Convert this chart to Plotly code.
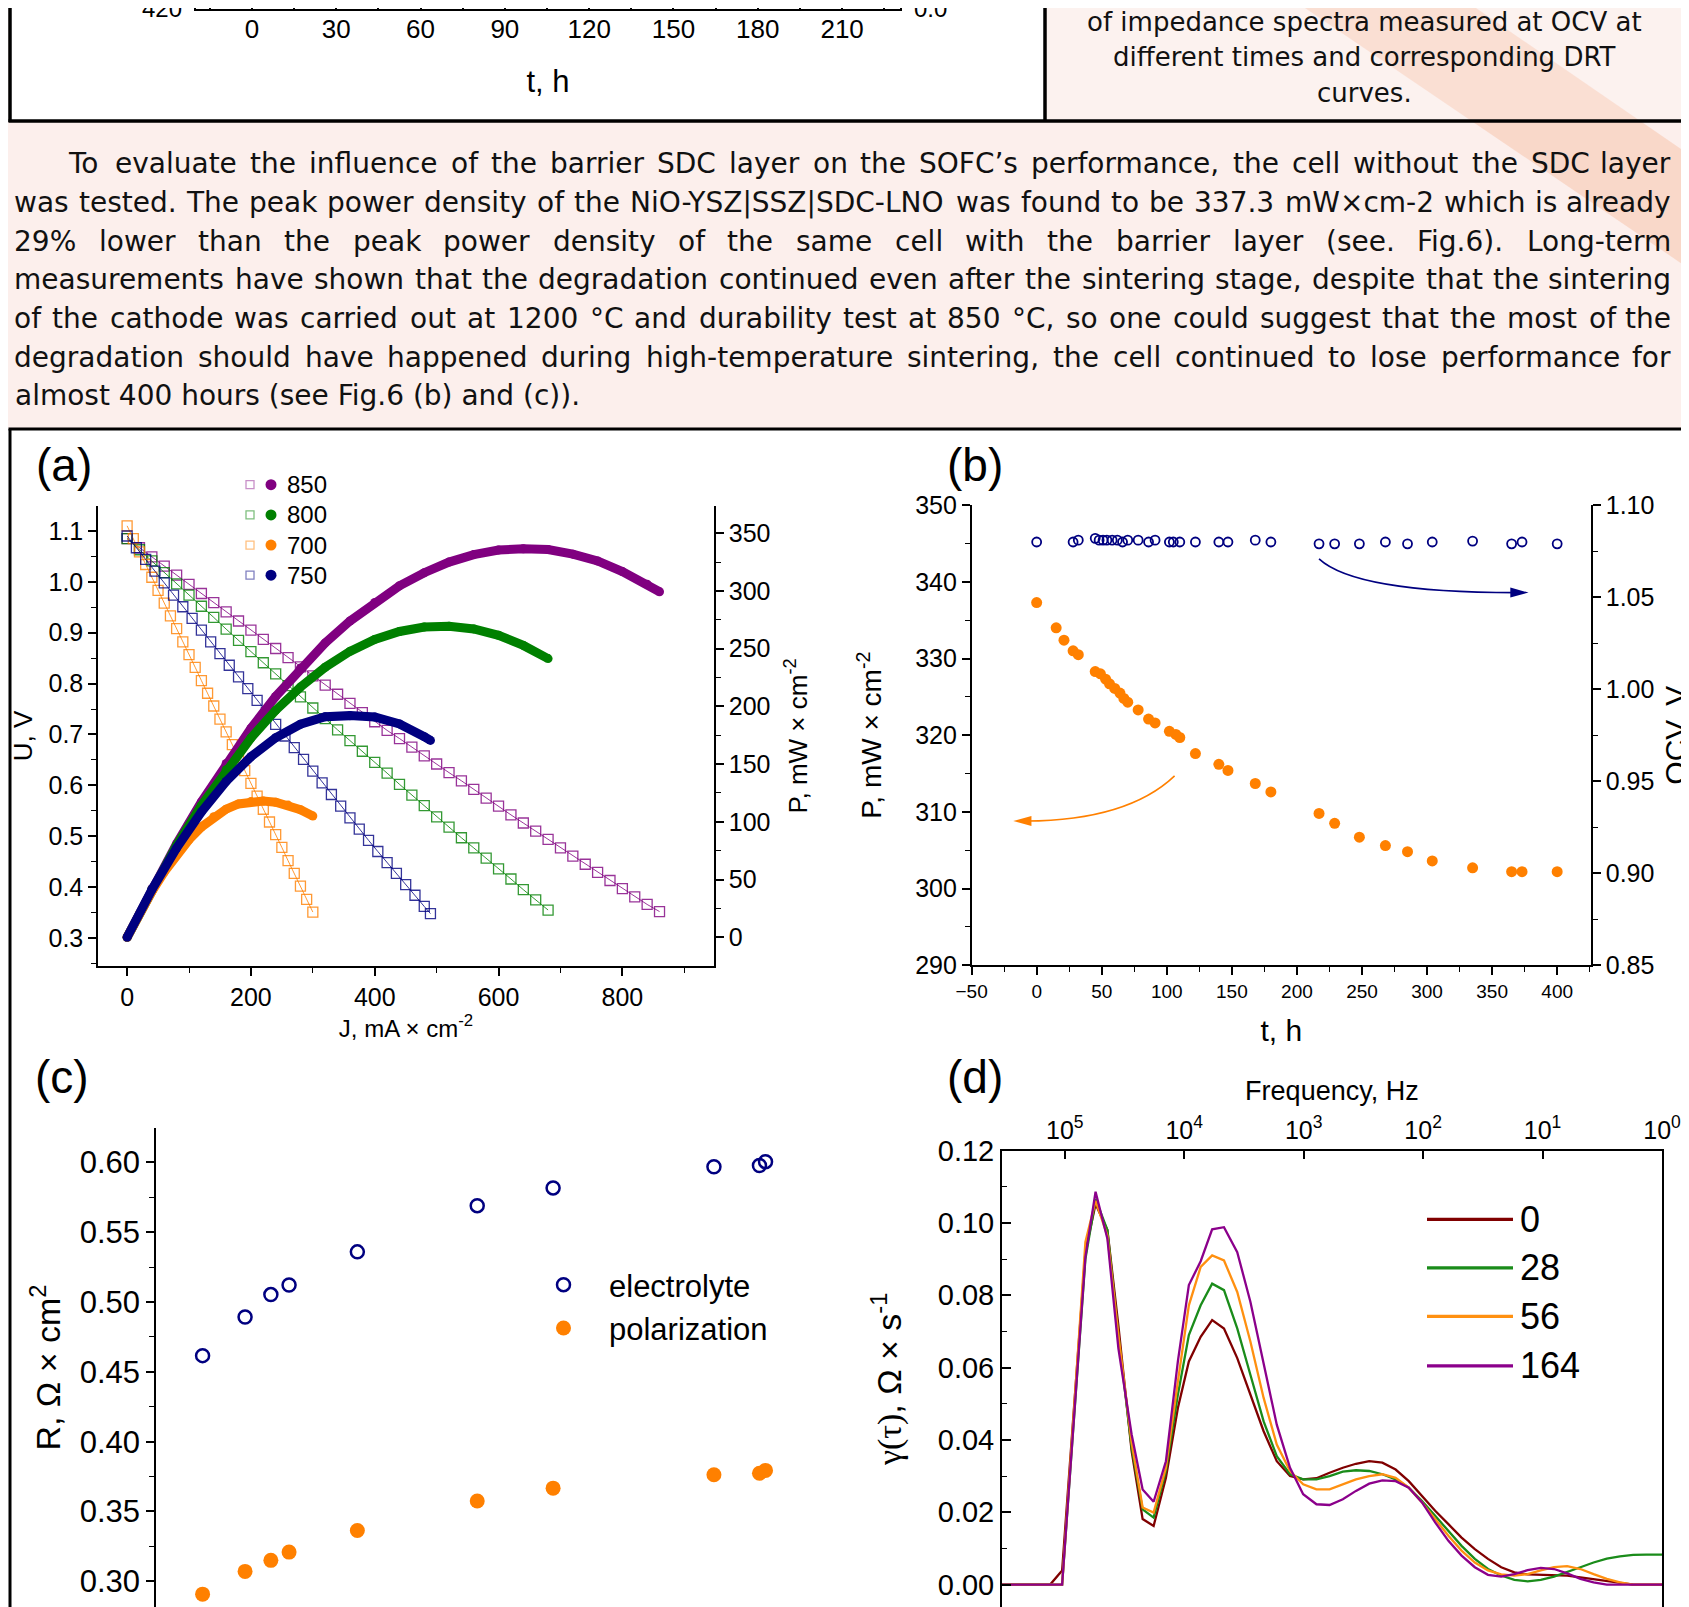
import plotly.graph_objects as go

W, H = 1689, 1607
OFF = 8  # the page places the figure 8 px from the top-left corner


def px(x):
    return (x - OFF) / W


def py(y):
    return 1 - (y - OFF) / H


# ---------------- DATA ----------------
# (a) I-V curves (open squares) and power curves (filled circles)
J_850 = [0, 20, 40, 60, 80, 100, 120, 140, 160, 180, 200, 220, 240, 260, 280, 300, 320, 340, 360, 380, 400,
         420, 440, 460, 480, 500, 520, 540, 560, 580, 600, 620, 640, 660, 680, 700, 720, 740, 760, 780, 800,
         820, 840, 860]
U_850 = [1.085, 1.067, 1.049, 1.031, 1.013, 0.995, 0.977, 0.959, 0.941, 0.923, 0.905, 0.887, 0.869, 0.851,
         0.833, 0.815, 0.797, 0.779, 0.761, 0.743, 0.725, 0.708, 0.692, 0.675, 0.658, 0.642, 0.625, 0.609,
         0.592, 0.575, 0.559, 0.542, 0.526, 0.510, 0.494, 0.477, 0.461, 0.445, 0.429, 0.413, 0.397, 0.381,
         0.366, 0.352]
JP_850 = [0, 40, 80, 120, 160, 200, 240, 280, 320, 360, 400, 440, 480, 520, 560, 600, 640, 680, 720, 760,
          800, 840, 860]
P_850 = [0, 42.0, 81.0, 117.2, 150.6, 181.0, 208.6, 233.2, 255.0, 274.0, 290.0, 304.5, 315.8, 325.0, 331.5,
         335.4, 336.6, 335.9, 331.9, 326.0, 316.8, 305.8, 299.3]

J_800 = [0, 20, 40, 60, 80, 100, 120, 140, 160, 180, 200, 220, 240, 260, 280, 300, 320, 340, 360, 380, 400,
         420, 440, 460, 480, 500, 520, 540, 560, 580, 600, 620, 640, 660, 680]
U_800 = [1.085, 1.063, 1.041, 1.018, 0.996, 0.974, 0.952, 0.930, 0.907, 0.885, 0.863, 0.841, 0.819, 0.796,
         0.774, 0.752, 0.731, 0.709, 0.688, 0.667, 0.645, 0.624, 0.602, 0.581, 0.560, 0.538, 0.518, 0.497,
         0.477, 0.457, 0.436, 0.416, 0.395, 0.375, 0.355]
JP_800 = [0, 40, 80, 120, 160, 200, 240, 280, 320, 360, 400, 440, 480, 520, 560, 600, 640, 680]
P_800 = [0, 41.6, 79.7, 114.2, 145.1, 172.6, 196.6, 216.7, 233.9, 247.7, 258.0, 264.9, 268.8, 269.4, 267.1,
         261.6, 252.8, 241.4]

J_750 = [0, 15, 30, 45, 60, 75, 90, 105, 120, 135, 150, 165, 180, 195, 210, 225, 240, 255, 270, 285, 300,
         315, 330, 345, 360, 375, 390, 405, 420, 435, 450, 465, 480, 490]
U_750 = [1.090, 1.067, 1.044, 1.021, 0.998, 0.974, 0.951, 0.928, 0.905, 0.882, 0.859, 0.836, 0.813, 0.790,
         0.767, 0.744, 0.720, 0.697, 0.674, 0.651, 0.628, 0.605, 0.582, 0.559, 0.536, 0.514, 0.492, 0.470,
         0.448, 0.427, 0.405, 0.384, 0.362, 0.348]
JP_750 = [0, 40, 80, 120, 160, 200, 240, 280, 320, 360, 400, 440, 480, 490]
P_750 = [0, 41.2, 77.3, 108.6, 135.0, 156.4, 172.8, 184.5, 191.0, 192.0, 190.8, 184.8, 173.8, 170.5]

J_700 = [0, 10, 20, 30, 40, 50, 60, 70, 80, 90, 100, 110, 120, 130, 140, 150, 160, 170, 180, 190, 200, 210,
         220, 230, 240, 250, 260, 270, 280, 290, 300]
U_700 = [1.110, 1.085, 1.059, 1.034, 1.009, 0.983, 0.958, 0.933, 0.908, 0.882, 0.857, 0.832, 0.806, 0.781,
         0.756, 0.730, 0.705, 0.680, 0.655, 0.629, 0.604, 0.579, 0.553, 0.528, 0.503, 0.478, 0.452, 0.427,
         0.402, 0.376, 0.351]
JP_700 = [0, 20, 40, 60, 80, 100, 120, 140, 160, 180, 200, 220, 240, 260, 280, 300]
P_700 = [0, 20.5, 39.5, 56.5, 71.5, 84.5, 95.5, 104.5, 111.0, 115.5, 117.5, 118.0, 117.0, 114.5, 110.5, 105.0]

TEMPS_LEGEND = ["850", "800", "700", "750"]

# (b) long-term test
T_P = [0, 15, 21, 28, 32, 45, 49, 53, 56, 60, 64, 67, 70, 78, 86, 91, 102, 107, 110, 122, 140, 147, 168, 180,
       217, 229, 248, 268, 285, 304, 335, 365, 373, 400]
P_T = [337.3, 334.0, 332.4, 331.0, 330.5, 328.3, 328.0, 327.3, 326.7, 326.1, 325.5, 324.8, 324.3, 323.3,
       322.1, 321.6, 320.5, 320.1, 319.7, 317.6, 316.2, 315.4, 313.7, 312.6, 309.8, 308.5, 306.7, 305.6,
       304.8, 303.6, 302.7, 302.2, 302.2, 302.2]
T_OCV = [0, 28, 32, 45, 48, 51, 54, 58, 62, 66, 70, 78, 86, 91, 102, 105, 110, 122, 140, 147, 168, 180, 217,
         229, 248, 268, 285, 304, 335, 365, 373, 400]
OCV = [1.080, 1.080, 1.081, 1.082, 1.081, 1.081, 1.081, 1.081, 1.081, 1.080, 1.081, 1.081, 1.080, 1.081,
       1.080, 1.080, 1.080, 1.080, 1.080, 1.080, 1.081, 1.080, 1.079, 1.079, 1.079, 1.080, 1.079, 1.080,
       1.0805, 1.079, 1.080, 1.079]

# (c) resistances
T_R = [0, 28, 45, 57, 102, 181, 231, 337, 367, 371]
R_EL = [0.4616, 0.4893, 0.5053, 0.5122, 0.5359, 0.5690, 0.5817, 0.5969, 0.5977, 0.6005]
R_POL = [0.2908, 0.3071, 0.3150, 0.3209, 0.3364, 0.3575, 0.3667, 0.3763, 0.3774, 0.3794]
R_LABELS = ["electrolyte", "polarization"]

# (d) DRT curves
LOG_F = [5.545, 5.122, 5.022, 4.827, 4.742, 4.643, 4.551, 4.440, 4.348, 4.256, 4.153, 4.053, 3.961, 3.862,
         3.766, 3.667, 3.556, 3.446, 3.335, 3.225, 3.114, 3.004, 2.893, 2.783, 2.672, 2.562, 2.451, 2.341,
         2.230, 2.120, 2.009, 1.899, 1.788, 1.678, 1.567, 1.457, 1.346, 1.236, 1.125, 1.015, 0.904, 0.794,
         0.683, 0.573, 0.462, 0.352, 0.241, 0.131, 0.000]
G_0 = [0, 0, 0.0039, 0.092, 0.1052, 0.098, 0.0716, 0.0369, 0.0181, 0.0162, 0.0295, 0.0488, 0.0617, 0.0685,
       0.0731, 0.0708, 0.0626, 0.0525, 0.0424, 0.0341, 0.0300, 0.0291, 0.0294, 0.0309, 0.0323, 0.0334, 0.0341,
       0.0337, 0.0318, 0.0286, 0.0245, 0.0204, 0.0167, 0.0130, 0.0098, 0.0071, 0.0048, 0.0034, 0.0028, 0.0027,
       0.0027, 0.0025, 0.0020, 0.0015, 0.0009, 0.0004, 0, 0, 0]
G_28 = [0, 0, 0, 0.090, 0.1066, 0.098, 0.069, 0.0378, 0.0208, 0.0185, 0.0314, 0.0525, 0.069, 0.0772, 0.0832,
        0.0814, 0.0708, 0.058, 0.0451, 0.0355, 0.0305, 0.0291, 0.0291, 0.030, 0.0312, 0.0316, 0.0314, 0.0305,
        0.0291, 0.0268, 0.0231, 0.019, 0.0149, 0.0107, 0.0071, 0.0043, 0.0025, 0.0013, 0.0009, 0.0013, 0.0022,
        0.0034, 0.0048, 0.0061, 0.0072, 0.0078, 0.0082, 0.0083, 0.0083]
G_56 = [0, 0, 0, 0.0947, 0.1061, 0.0965, 0.069, 0.0392, 0.0213, 0.0199, 0.0323, 0.0561, 0.0772, 0.0878,
        0.091, 0.0896, 0.0809, 0.0672, 0.0516, 0.0387, 0.0314, 0.0277, 0.0263, 0.0263, 0.0277, 0.0291, 0.030,
        0.0305, 0.0295, 0.0268, 0.0227, 0.0181, 0.0135, 0.0094, 0.0061, 0.0039, 0.0028, 0.0025, 0.0029,
        0.0039, 0.0048, 0.0051, 0.0043, 0.0029, 0.0016, 0.0006, 0, 0, 0]
G_164 = [0, 0, 0, 0.0906, 0.1086, 0.0956, 0.0653, 0.0415, 0.0263, 0.0229, 0.0341, 0.0617, 0.0828, 0.0894,
         0.0982, 0.0988, 0.0919, 0.0782, 0.0607, 0.0442, 0.0323, 0.025, 0.0222, 0.022, 0.0236, 0.0259, 0.0279,
         0.0288, 0.0286, 0.0268, 0.0227, 0.0172, 0.0121, 0.008, 0.0048, 0.0027, 0.0022, 0.0029, 0.004, 0.0046,
         0.0043, 0.0031, 0.0016, 0.0006, 0, 0, 0, 0, 0]
DRT_LABELS = ["0", "28", "56", "164"]

# top strip (bottom of previous figure)
TOP_TICKS = [0, 30, 60, 90, 120, 150, 180, 210]

# text
PARA_LINES = [
    "To evaluate the influence of the barrier SDC layer on the SOFC\u2019s performance, the cell without the SDC layer",
    "was tested. The peak power density of the NiO-YSZ|SSZ|SDC-LNO was found to be 337.3 mW\u00d7cm-2 which is already",
    "29% lower than the peak power density of the same cell with the barrier layer (see. Fig.6). Long-term",
    "measurements have shown that the degradation continued even after the sintering stage, despite that the sintering",
    "of the cathode was carried out at 1200 \u00b0C and durability test at 850 \u00b0C, so one could suggest that the most of the",
    "degradation should have happened during high-temperature sintering, the cell continued to lose performance for",
    "almost 400 hours (see Fig.6 (b) and (c)).",
]
CAPTION_LINES = ["of impedance spectra measured at OCV at", "different times and corresponding DRT", "curves."]

# ---------------- STYLE ----------------
PURPLE, GREEN, ORANGE, NAVY, MAROON = "#800080", "#008000", "#FF8000", "#000080", "#800000"
CF = "Liberation Sans, Arial, sans-serif"
TF = "DejaVu Sans, Verdana, sans-serif"

# DejaVu Sans advance widths (em) for justification of the paragraph
DW = {' ': .318, '!': .401, '(': .390, ')': .390, ',': .318, '-': .361, '.': .318, '|': .337, '%': .950,
      '\u00d7': .838, '\u00b0': .500, '\u2019': .318, "'": .275,
      'A': .684, 'B': .686, 'C': .698, 'D': .770, 'E': .632, 'F': .575, 'G': .775, 'H': .752, 'I': .295,
      'J': .295, 'K': .656, 'L': .557, 'M': .863, 'N': .748, 'O': .787, 'P': .603, 'Q': .787, 'R': .695,
      'S': .635, 'T': .611, 'U': .732, 'V': .684, 'W': .989, 'X': .686, 'Y': .612, 'Z': .686,
      'a': .613, 'b': .635, 'c': .550, 'd': .635, 'e': .615, 'f': .352, 'g': .635, 'h': .634, 'i': .278,
      'j': .278, 'k': .579, 'l': .278, 'm': .974, 'n': .634, 'o': .612, 'p': .635, 'q': .635, 'r': .411,
      's': .521, 't': .392, 'u': .634, 'v': .592, 'w': .818, 'x': .592, 'y': .592, 'z': .525}


def tw(s, size):
    return sum(DW.get(ch, .636) for ch in s) * size


fig = go.Figure()

# ---- panel (a) traces
for J, U, col in [(J_850, U_850, PURPLE), (J_800, U_800, GREEN), (J_700, U_700, ORANGE), (J_750, U_750, NAVY)]:
    fig.add_trace(go.Scatter(x=J, y=U, mode="lines+markers", xaxis="x", yaxis="y", showlegend=False,
                             line=dict(color=col, width=0.8),
                             marker=dict(symbol="square-open", size=10, color=col, opacity=0.8,
                                         line=dict(width=1.3, color=col))))
for J, P, col in [(JP_850, P_850, PURPLE), (JP_800, P_800, GREEN), (JP_700, P_700, ORANGE), (JP_750, P_750, NAVY)]:
    fig.add_trace(go.Scatter(x=J, y=P, mode="lines+markers", xaxis="x", yaxis="y2", showlegend=False,
                             line=dict(color=col, width=9), marker=dict(size=9, color=col)))

# ---- panel (b)
fig.add_trace(go.Scatter(x=T_OCV, y=OCV, mode="markers", xaxis="x2", yaxis="y4", showlegend=False,
                         marker=dict(symbol="circle-open", size=9, color=NAVY, line=dict(width=1.8, color=NAVY))))
fig.add_trace(go.Scatter(x=T_P, y=P_T, mode="markers", xaxis="x2", yaxis="y3", showlegend=False,
                         marker=dict(symbol="circle", size=11, color=ORANGE)))

# ---- panel (c)
fig.add_trace(go.Scatter(x=T_R, y=R_EL, mode="markers", xaxis="x3", yaxis="y5", name=R_LABELS[0],
                         marker=dict(symbol="circle-open", size=13, color=NAVY, line=dict(width=2.5, color=NAVY))))
fig.add_trace(go.Scatter(x=T_R, y=R_POL, mode="markers", xaxis="x3", yaxis="y5", name=R_LABELS[1],
                         marker=dict(symbol="circle", size=15, color=ORANGE)))

# ---- panel (d)
FREQ = [10 ** v for v in LOG_F]
DRT_COLS = [MAROON, "#1a8c1a", "#FF9010", "#8B008B"]
for G, col, lab in zip([G_0, G_28, G_56, G_164], DRT_COLS, DRT_LABELS):
    fig.add_trace(go.Scatter(x=FREQ, y=G, mode="lines", xaxis="x4", yaxis="y6", name=lab, showlegend=False,
                             line=dict(color=col, width=2.3)))

# ---- top strip (empty axes)
fig.add_trace(go.Scatter(x=[], y=[], xaxis="x5", yaxis="y7", showlegend=False))

ax_common = dict(showline=True, linecolor="black", linewidth=1.5, ticks="outside", tickcolor="black",
                 tickwidth=1.5, ticklen=8, showgrid=False, zeroline=False, automargin=False)
minor_out = dict(ticks="outside", ticklen=5, tickcolor="black", tickwidth=1.2)
minor_in = dict(ticks="inside", ticklen=5, tickcolor="black", tickwidth=1.2)

fig.update_layout(
    template="none",
    width=W, height=H, autosize=False, margin=dict(l=0, r=0, t=0, b=0, pad=0, autoexpand=False),
    paper_bgcolor="#fcefec", plot_bgcolor="rgba(0,0,0,0)",
    font=dict(family=CF, color="black"),
    # (a)
    xaxis=dict(domain=[px(98), px(714)], anchor="y", range=[-47, 948], tick0=0, dtick=200,
               minor=dict(dtick=100, **minor_out), tickfont=dict(size=25),
               title=dict(text="J, mA \u00d7 cm<sup>-2</sup>", font=dict(size=24), standoff=10), **ax_common),
    yaxis=dict(domain=[py(966), py(506)], anchor="x", range=[0.245, 1.149], tick0=0.3, dtick=0.1,
               tickformat=".1f", minor=dict(dtick=0.05, **minor_out), tickfont=dict(size=25),
               title=dict(text="U, V", font=dict(size=26), standoff=8), **ax_common),
    yaxis2=dict(overlaying="y", side="right", anchor="x", range=[-24.9, 373.6], tick0=0, dtick=50,
                minor=dict(dtick=25, **minor_out), tickfont=dict(size=25),
                title=dict(text="P, mW \u00d7 cm<sup>-2</sup>", font=dict(size=26), standoff=19), **ax_common),
    # (b)
    xaxis2=dict(domain=[px(971.6), px(1591)], anchor="y3", range=[-50, 426], tick0=0, dtick=50,
                minor=dict(dtick=25, **minor_out), tickfont=dict(size=19),
                title=dict(text="t, h", font=dict(size=30), standoff=19), **ax_common),
    yaxis3=dict(domain=[py(965.2), py(505.2)], anchor="x2", range=[290, 350], tick0=290, dtick=10,
                minor=dict(dtick=5, **minor_out), tickfont=dict(size=25),
                title=dict(text="P, mW \u00d7 cm<sup>-2</sup>", font=dict(size=28), standoff=25), **ax_common),
    yaxis4=dict(overlaying="y3", side="right", anchor="x2", range=[0.85, 1.10], tick0=0.85, dtick=0.05,
                tickformat=".2f", minor=dict(dtick=0.025, **minor_out), tickfont=dict(size=25),
                title=dict(text="OCV, V", font=dict(size=30), standoff=12), **ax_common),
    # (c)
    xaxis3=dict(domain=[px(156), px(820)], anchor="y5", range=[-30.7, 406.9], visible=False, automargin=False),
    yaxis5=dict(domain=[py(1607), py(1128)], anchor="x3", range=[0.2816, 0.6246], tick0=0.3, dtick=0.05,
                tickformat=".2f", minor=dict(dtick=0.025, **minor_out), tickfont=dict(size=31),
                title=dict(text="R, \u03a9 \u00d7 cm<sup>2</sup>", font=dict(size=34), standoff=9), **ax_common),
    # (d)
    xaxis4=dict(domain=[px(1001.8), px(1662)], anchor="y6", side="top", type="log", range=[5.527, 0],
                tickvals=[1e5, 1e4, 1e3, 1e2, 1e1, 1e0],
                ticktext=["10<sup>5</sup>", "10<sup>4</sup>", "10<sup>3</sup>", "10<sup>2</sup>",
                          "10<sup>1</sup>", "10<sup>0</sup>"],
                tickfont=dict(size=25), showline=True, linecolor="black", linewidth=1.5, ticks="inside",
                tickcolor="black", tickwidth=1.5, ticklen=9, showgrid=False, zeroline=False, automargin=False,
                title=dict(text="Frequency, Hz", font=dict(size=27), standoff=4)),
    yaxis6=dict(domain=[py(1607), py(1150.5)], anchor="x4", range=[-0.0062, 0.12], tick0=0, dtick=0.02,
                tickformat=".2f", showline=True, linecolor="black", linewidth=1.5, mirror=True,
                ticks="inside", tickcolor="black", tickwidth=1.5, ticklen=9, showgrid=False, zeroline=False,
                automargin=False, minor=dict(dtick=0.01, **minor_in), tickfont=dict(size=29),
                title=dict(text="<span style='font-family:Liberation Serif'>\u03b3(\u03c4)</span>, "
                                "\u03a9 \u00d7 s<sup>-1</sup>", font=dict(size=34), standoff=26)),
    # top strip
    xaxis5=dict(domain=[px(196), px(900)], anchor="y7", range=[-19.9, 230.6], tickvals=TOP_TICKS,
                showline=True, linecolor="black", linewidth=1.8, ticks="inside", ticklen=6, tickcolor="black",
                tickwidth=1.5, minor=dict(dtick=15, ticks="inside", ticklen=6, tickcolor="black", tickwidth=1.5),
                showgrid=False, zeroline=False, automargin=False, tickfont=dict(size=26), ticklabelstandoff=-4,
                title=dict(text="t, h", font=dict(size=31), standoff=27)),
    yaxis7=dict(domain=[py(9), 1], anchor="x5", range=[0, 1], showline=True, mirror=True, linecolor="black",
                linewidth=1.8, showticklabels=False, ticks="", showgrid=False, zeroline=False, automargin=False),
    legend=dict(x=px(518), y=py(1258), xanchor="left", yanchor="top", bgcolor="rgba(0,0,0,0)",
                font=dict(size=31, family=CF), itemwidth=81, tracegroupgap=0, borderwidth=0),
    showlegend=True,
)

shapes = []
# background decorative band
shapes.append(dict(type="path", xref="paper", yref="paper", layer="below", line=dict(width=0),
                   fillcolor="rgba(247,188,160,0.45)",
                   path=f"M {px(1305)},{py(8)} L {px(1476)},{py(8)} L {px(1697)},{py(160)} L {px(1697)},{py(274)} Z"))
# top boxes: fills then frame lines
shapes.append(dict(type="rect", xref="paper", yref="paper", layer="below", x0=px(10), x1=px(1045),
                   y0=py(121), y1=1, fillcolor="white", line=dict(width=0)))
shapes.append(dict(type="rect", xref="paper", yref="paper", layer="below", x0=px(1045), x1=px(1684),
                   y0=py(121), y1=1, fillcolor="rgba(255,255,255,0.2)", line=dict(width=0)))
frame = dict(color="black", width=3.5)
shapes.append(dict(type="line", xref="paper", yref="paper", x0=px(10), x1=px(10), y0=py(122), y1=1, line=frame))
shapes.append(dict(type="line", xref="paper", yref="paper", x0=px(1045), x1=px(1045), y0=py(122), y1=1, line=frame))
shapes.append(dict(type="line", xref="paper", yref="paper", x0=px(1684), x1=px(1684), y0=py(122), y1=1, line=frame))
shapes.append(dict(type="line", xref="paper", yref="paper", x0=px(8.5), x1=px(1685.5), y0=py(121), y1=py(121),
                   line=frame))
# big figure box
shapes.append(dict(type="rect", xref="paper", yref="paper", layer="below", x0=px(7), x1=1,
                   y0=0, y1=py(429), fillcolor="white", line=dict(width=0)))
shapes.append(dict(type="line", xref="paper", yref="paper", x0=px(8.5), x1=1, y0=py(429), y1=py(429),
                   line=dict(color="black", width=3)))
shapes.append(dict(type="line", xref="paper", yref="paper", x0=px(10), x1=px(10), y0=0, y1=py(429),
                   line=dict(color="black", width=3)))

# (b) guiding arrows
shapes.append(dict(type="path", xref="x2", yref="y3", line=dict(color=NAVY, width=1.6),
                   path="M 217,343 Q 245,338.6 368,338.6"))
shapes.append(dict(type="path", xref="x2", yref="y3", line=dict(width=0), fillcolor=NAVY,
                   path="M 364,339.25 L 378,338.6 L 364,337.95 Z"))
shapes.append(dict(type="path", xref="x2", yref="y3", line=dict(color=ORANGE, width=1.6),
                   path="M 106,314.7 Q 70,308.9 -8,308.8"))
shapes.append(dict(type="path", xref="x2", yref="y3", line=dict(width=0), fillcolor=ORANGE,
                   path="M -4,309.45 L -18,308.8 L -4,308.15 Z"))

# (a) legend symbols
rows_a = [484.7, 514.9, 545.1, 575.2]
sq_cols = ["#c890c8", "#7fbf7f", "#ffc080", "#8080c0"]
circ_cols = [PURPLE, GREEN, ORANGE, NAVY]
for yy, sc, cc in zip(rows_a, sq_cols, circ_cols):
    shapes.append(dict(type="rect", xref="paper", yref="paper", xsizemode="pixel", ysizemode="pixel",
                       xanchor=px(250), yanchor=py(yy), x0=-4, x1=4, y0=-4, y1=4,
                       line=dict(color=sc, width=1.3)))
    shapes.append(dict(type="circle", xref="paper", yref="paper", xsizemode="pixel", ysizemode="pixel",
                       xanchor=px(271), yanchor=py(yy), x0=-5.5, x1=5.5, y0=-5.5, y1=5.5,
                       fillcolor=cc, line=dict(color=cc, width=0)))
# (d) legend lines
rows_d = [1219.4, 1267.9, 1316.3, 1365.9]
for yy, cc in zip(rows_d, DRT_COLS):
    shapes.append(dict(type="line", xref="paper", yref="paper", x0=px(1427), x1=px(1513), y0=py(yy), y1=py(yy),
                       line=dict(color=cc, width=3.2)))

annotations = []
# paragraph, justified word by word
PSIZE = 28
LEFT, RIGHT = 13, 1672
para_y = [164, 202.6, 241.2, 279.8, 318.4, 357, 395.6]
for i, (line, yy) in enumerate(zip(PARA_LINES, para_y)):
    x_left = 67 if i == 0 else LEFT
    if i == len(PARA_LINES) - 1:
        annotations.append(dict(x=px(x_left), y=py(yy), xref="paper", yref="paper", text=line, showarrow=False,
                                xanchor="left", yanchor="middle", font=dict(family=TF, size=PSIZE, color="#111")))
        continue
    words = line.split(" ")
    total = sum(tw(w, PSIZE) for w in words)
    gap = (RIGHT - x_left - total) / (len(words) - 1)
    x = x_left
    for k, w in enumerate(words):
        last = k == len(words) - 1
        annotations.append(dict(x=px(RIGHT if last else x), y=py(yy), xref="paper", yref="paper", text=w,
                                showarrow=False, xanchor="right" if last else "left", yanchor="middle",
                                borderpad=0, font=dict(family=TF, size=PSIZE, color="#111")))
        x += tw(w, PSIZE) + gap

# caption in the top right box
for line, yy in zip(CAPTION_LINES, [22, 57.5, 93]):
    annotations.append(dict(x=px(1364), y=py(yy), xref="paper", yref="paper", text=line, showarrow=False,
                            xanchor="center", yanchor="middle", font=dict(family=TF, size=26, color="#111")))

# cut-off tick labels of the previous figure
annotations.append(dict(x=px(184), y=py(9), xref="paper", yref="paper", text="420", showarrow=False,
                        xanchor="right", yanchor="middle", font=dict(family=CF, size=24)))
annotations.append(dict(x=px(912), y=py(9), xref="paper", yref="paper", text="0.0", showarrow=False,
                        xanchor="left", yanchor="middle", font=dict(family=CF, size=24)))

# panel letters
for lab, xx, yy in [("(a)", 64, 465), ("(b)", 975, 465), ("(c)", 62, 1077), ("(d)", 975, 1077)]:
    annotations.append(dict(x=px(xx), y=py(yy), xref="paper", yref="paper", text=lab, showarrow=False,
                            xanchor="center", yanchor="middle", font=dict(family=CF, size=46)))

# (a) legend text
for yy, t in zip(rows_a, TEMPS_LEGEND):
    annotations.append(dict(x=px(285), y=py(yy), xref="paper", yref="paper", text=t, showarrow=False,
                            xanchor="left", yanchor="middle", font=dict(family=CF, size=24)))
# (d) legend text
for yy, t in zip(rows_d, DRT_LABELS):
    annotations.append(dict(x=px(1518), y=py(yy), xref="paper", yref="paper", text=t, showarrow=False,
                            xanchor="left", yanchor="middle", font=dict(family=CF, size=36)))

fig.update_layout(shapes=shapes, annotations=annotations)
fig.write_html("out.html")
